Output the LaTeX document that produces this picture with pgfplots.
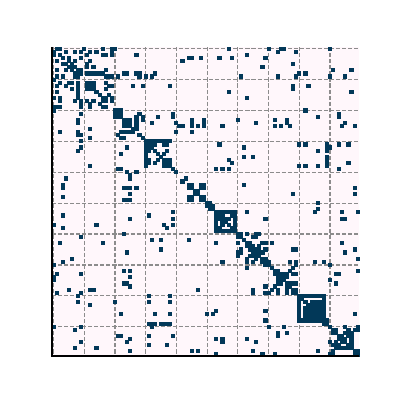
\documentclass[border=0pt]{standalone}
\usepackage{pgfplots}
\pgfplotsset{compat=1.18}
\usepackage{pgfplotstable}
\definecolor{cellbg}{RGB}{255,247,251}
\definecolor{celldark}{RGB}{2,56,88}
\definecolor{gridgray}{RGB}{140,140,140}

% upper triangle of the symmetric 0/1 matrix: column c, row r (c >= r)
\pgfplotstableread{
c r
1 0
2 0
10 0
16 0
19 0
20 0
57 0
70 0
74 0
75 0
90 0
4 1
7 1
9 1
14 1
73 1
79 1
2 2
16 2
17 2
19 2
27 2
63 2
3 3
5 3
9 3
44 3
45 3
48 3
54 3
58 3
69 3
5 4
7 4
12 4
42 4
6 5
78 5
6 6
11 6
68 6
7 6
91 7
97 7
8 7
9 7
8 8
9 8
11 8
12 8
13 8
14 8
16 8
23 8
24 8
27 8
28 8
33 8
80 8
82 8
21 9
28 9
30 9
32 9
61 9
73 9
79 9
90 9
95 9
11 11
12 11
13 11
17 11
11 2
11 5
12 1
12 12
13 12
19 12
26 12
29 12
38 12
78 12
78 13
83 12
13 6
13 13
14 14
15 8
15 15
18 15
16 16
17 16
17 17
17 7
17 9
17 13
18 9
18 12
19 9
19 1
19 16
19 17
57 14
97 14
63 16
20 20
21 20
22 20
21 21
22 21
22 22
82 20
28 21
39 21
93 21
27 22
29 22
34 22
39 22
86 22
93 22
23 23
24 23
25 23
27 23
45 23
49 23
60 23
72 23
76 23
24 24
25 24
27 24
32 24
40 24
45 24
49 24
66 24
76 24
95 24
25 25
27 25
41 25
42 25
45 25
47 25
49 25
55 25
72 25
74 25
77 25
94 25
98 25
26 26
27 26
40 27
45 27
28 28
29 29
29 23
30 30
31 30
32 30
33 30
34 30
35 30
36 30
37 30
38 30
31 31
32 31
33 31
36 31
37 31
54 31
80 31
82 31
89 31
93 31
96 31
32 32
62 32
90 32
89 32
33 33
86 33
89 33
34 34
37 33
36 34
89 35
62 35
65 35
35 35
36 36
57 36
89 36
37 36
38 36
96 37
37 37
38 37
58 37
89 37
89 38
38 38
80 38
82 38
86 38
39 39
53 39
55 39
57 39
93 39
40 40
43 42
44 44
45 44
45 45
48 44
49 44
48 45
49 45
62 44
98 45
46 46
47 46
47 47
78 47
98 47
48 48
49 48
49 49
50 50
51 50
51 51
52 51
52 52
86 50
86 52
85 53
63 53
94 53
99 53
53 53
54 53
55 53
56 53
57 53
58 53
59 53
59 54
59 55
59 56
59 57
59 58
59 59
54 54
55 55
56 56
57 57
58 58
58 54
57 55
55 54
56 55
94 55
95 55
69 55
60 60
61 60
61 61
63 60
66 60
67 60
65 61
66 61
62 62
63 63
64 63
64 64
65 64
67 64
65 65
66 65
67 65
66 66
67 66
67 67
68 66
68 63
69 63
68 68
69 68
69 69
69 65
70 69
71 63
94 63
78 65
79 65
98 65
95 66
99 68
85 69
88 69
77 69
79 69
90 70
70 70
71 71
72 72
73 72
73 73
74 73
75 73
76 73
77 72
78 71
79 70
74 74
75 74
76 74
75 75
76 76
77 76
78 76
79 76
77 77
78 78
79 78
79 79
78 73
79 73
92 73
93 73
99 72
92 76
90 75
80 80
81 80
82 80
83 80
84 80
85 80
86 80
87 80
88 80
81 81
82 82
84 82
85 82
86 82
87 82
83 83
84 83
85 83
86 83
87 83
88 83
84 84
85 84
86 84
87 84
88 84
85 85
86 85
87 85
88 85
86 86
87 86
88 86
87 87
88 87
88 88
88 81
88 82
89 88
89 89
98 86
90 90
91 91
92 91
92 92
93 93
94 93
94 94
95 94
95 95
96 96
97 96
97 97
98 98
99 98
99 99
99 90
98 91
97 92
96 93
96 91
95 90
99 91
95 92
96 92
97 93
97 94
97 95
}\cells

\begin{document}
\begin{tikzpicture}
\useasboundingbox (-1.3cm,-1.1cm) rectangle (8.7cm,8.9cm);
\fill[white] (-1.3cm,-1.1cm) rectangle (8.7cm,8.9cm);
\begin{axis}[
    at={(0,0)}, anchor=south west,
    scale only axis,
    width=7.68cm, height=7.72cm,
    xmin=-0.5, xmax=99.5, ymin=-0.5, ymax=99.5,
    y dir=reverse,
    axis background/.style={fill=cellbg},
    xtick={0,10,...,90}, ytick={0,10,...,90},
    xticklabels={}, yticklabels={},
    major tick length=0pt,
    grid=major,
    grid style={gridgray, line width=0.9pt, dash pattern=on 2.9pt off 1.4pt},
    axis line style={draw=none},
    axis on top,
  ]
  \addplot[only marks, mark=square*, mark size=1.12pt,
    mark options={fill=celldark, draw=celldark, line width=0pt}]
    table[x=c, y=r] {\cells};
  \addplot[only marks, mark=square*, mark size=1.12pt,
    mark options={fill=celldark, draw=celldark, line width=0pt}]
    table[x=r, y=c] {\cells};
\end{axis}
\draw[black, line width=0.8pt] (current axis.north west) -- (current axis.south west) -- (current axis.south east);
\end{tikzpicture}
\end{document}
